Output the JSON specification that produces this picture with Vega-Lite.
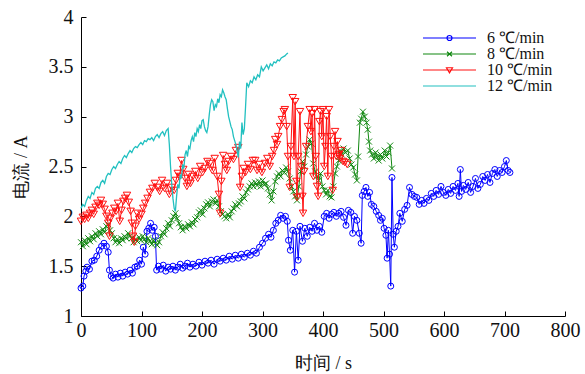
{
  "$schema": "https://vega.github.io/schema/vega-lite/v6.json",
  "width": 484,
  "height": 299,
  "autosize": "none",
  "padding": {"left": 81, "top": 17, "right": 20, "bottom": 58},
  "background": "white",
  "config": {
    "view": {"stroke": null},
    "axis": {
      "grid": false,
      "domainColor": "#000",
      "domainWidth": 1,
      "tickColor": "#000",
      "tickSize": -5,
      "labelFont": "Liberation Serif",
      "labelFontSize": 20,
      "labelColor": "#111",
      "labelOverlap": false,
      "labelFlush": false,
      "titleFont": "Liberation Serif",
      "titleFontSize": 18,
      "titleFontWeight": "normal",
      "titleColor": "#111"
    }
  },
  "datasets": {
    "d": [
      {"s":6,"t":0,"v":1.28},{"s":6,"t":3,"v":1.30},{"s":6,"t":5,"v":1.40},{"s":6,"t":8,"v":1.45},{"s":6,"t":10,"v":1.49},{"s":6,"t":14,"v":1.47},{"s":6,"t":18,"v":1.55},{"s":6,"t":22,"v":1.56},{"s":6,"t":26,"v":1.60},{"s":6,"t":30,"v":1.66},{"s":6,"t":34,"v":1.70},{"s":6,"t":38,"v":1.73},{"s":6,"t":42,"v":1.70},{"s":6,"t":45,"v":1.64},{"s":6,"t":47,"v":1.46},{"s":6,"t":50,"v":1.40},{"s":6,"t":53,"v":1.38},{"s":6,"t":57,"v":1.42},{"s":6,"t":61,"v":1.39},{"s":6,"t":65,"v":1.43},{"s":6,"t":69,"v":1.40},{"s":6,"t":73,"v":1.44},{"s":6,"t":77,"v":1.42},{"s":6,"t":81,"v":1.46},{"s":6,"t":85,"v":1.43},{"s":6,"t":89,"v":1.49},{"s":6,"t":93,"v":1.50},{"s":6,"t":97,"v":1.56},{"s":6,"t":100,"v":1.52},{"s":6,"t":103,"v":1.69},{"s":6,"t":106,"v":1.62},{"s":6,"t":109,"v":1.85},{"s":6,"t":112,"v":1.88},{"s":6,"t":115,"v":1.93},{"s":6,"t":118,"v":1.86},{"s":6,"t":121,"v":1.89},{"s":6,"t":123,"v":1.80},{"s":6,"t":125,"v":1.46},{"s":6,"t":128,"v":1.50},{"s":6,"t":132,"v":1.47},{"s":6,"t":136,"v":1.51},{"s":6,"t":140,"v":1.45},{"s":6,"t":144,"v":1.49},{"s":6,"t":148,"v":1.47},{"s":6,"t":152,"v":1.50},{"s":6,"t":156,"v":1.46},{"s":6,"t":160,"v":1.49},{"s":6,"t":164,"v":1.52},{"s":6,"t":168,"v":1.48},{"s":6,"t":172,"v":1.50},{"s":6,"t":176,"v":1.53},{"s":6,"t":180,"v":1.49},{"s":6,"t":185,"v":1.52},{"s":6,"t":190,"v":1.50},{"s":6,"t":195,"v":1.54},{"s":6,"t":200,"v":1.51},{"s":6,"t":205,"v":1.55},{"s":6,"t":210,"v":1.53},{"s":6,"t":215,"v":1.56},{"s":6,"t":220,"v":1.52},{"s":6,"t":225,"v":1.57},{"s":6,"t":230,"v":1.55},{"s":6,"t":235,"v":1.58},{"s":6,"t":240,"v":1.56},{"s":6,"t":245,"v":1.60},{"s":6,"t":250,"v":1.57},{"s":6,"t":255,"v":1.61},{"s":6,"t":260,"v":1.58},{"s":6,"t":265,"v":1.62},{"s":6,"t":270,"v":1.59},{"s":6,"t":275,"v":1.63},{"s":6,"t":280,"v":1.61},{"s":6,"t":285,"v":1.65},{"s":6,"t":290,"v":1.63},{"s":6,"t":295,"v":1.69},{"s":6,"t":300,"v":1.73},{"s":6,"t":305,"v":1.78},{"s":6,"t":310,"v":1.82},{"s":6,"t":314,"v":1.79},{"s":6,"t":318,"v":1.86},{"s":6,"t":322,"v":1.93},{"s":6,"t":326,"v":1.96},{"s":6,"t":330,"v":2.01},{"s":6,"t":334,"v":1.98},{"s":6,"t":338,"v":2.00},{"s":6,"t":341,"v":1.95},{"s":6,"t":343,"v":1.76},{"s":6,"t":346,"v":1.66},{"s":6,"t":350,"v":1.86},{"s":6,"t":353,"v":1.44},{"s":6,"t":356,"v":1.85},{"s":6,"t":359,"v":1.56},{"s":6,"t":362,"v":1.90},{"s":6,"t":366,"v":1.75},{"s":6,"t":370,"v":1.88},{"s":6,"t":374,"v":1.80},{"s":6,"t":378,"v":1.89},{"s":6,"t":382,"v":1.85},{"s":6,"t":386,"v":1.93},{"s":6,"t":390,"v":1.86},{"s":6,"t":394,"v":1.90},{"s":6,"t":398,"v":1.84},{"s":6,"t":402,"v":2.00},{"s":6,"t":406,"v":2.03},{"s":6,"t":410,"v":1.98},{"s":6,"t":414,"v":2.02},{"s":6,"t":418,"v":2.04},{"s":6,"t":422,"v":2.00},{"s":6,"t":426,"v":2.03},{"s":6,"t":430,"v":2.05},{"s":6,"t":434,"v":1.99},{"s":6,"t":438,"v":1.91},{"s":6,"t":442,"v":2.06},{"s":6,"t":446,"v":2.04},{"s":6,"t":449,"v":1.83},{"s":6,"t":452,"v":2.00},{"s":6,"t":456,"v":1.96},{"s":6,"t":460,"v":1.83},{"s":6,"t":463,"v":1.73},{"s":6,"t":465,"v":2.21},{"s":6,"t":468,"v":2.25},{"s":6,"t":471,"v":2.29},{"s":6,"t":474,"v":2.20},{"s":6,"t":477,"v":2.24},{"s":6,"t":480,"v":2.12},{"s":6,"t":484,"v":2.10},{"s":6,"t":488,"v":2.05},{"s":6,"t":492,"v":2.01},{"s":6,"t":495,"v":1.96},{"s":6,"t":498,"v":1.98},{"s":6,"t":501,"v":1.88},{"s":6,"t":504,"v":1.81},{"s":6,"t":506,"v":1.58},{"s":6,"t":508,"v":1.86},{"s":6,"t":510,"v":1.62},{"s":6,"t":512,"v":1.30},{"s":6,"t":514,"v":2.39},{"s":6,"t":516,"v":1.82},{"s":6,"t":518,"v":1.69},{"s":6,"t":521,"v":1.85},{"s":6,"t":524,"v":1.90},{"s":6,"t":527,"v":2.03},{"s":6,"t":531,"v":1.95},{"s":6,"t":535,"v":2.07},{"s":6,"t":539,"v":2.11},{"s":6,"t":543,"v":2.29},{"s":6,"t":547,"v":2.22},{"s":6,"t":551,"v":2.20},{"s":6,"t":555,"v":2.19},{"s":6,"t":559,"v":2.12},{"s":6,"t":563,"v":2.16},{"s":6,"t":567,"v":2.13},{"s":6,"t":571,"v":2.18},{"s":6,"t":575,"v":2.16},{"s":6,"t":579,"v":2.23},{"s":6,"t":583,"v":2.20},{"s":6,"t":587,"v":2.26},{"s":6,"t":591,"v":2.22},{"s":6,"t":595,"v":2.30},{"s":6,"t":599,"v":2.24},{"s":6,"t":603,"v":2.21},{"s":6,"t":607,"v":2.27},{"s":6,"t":611,"v":2.23},{"s":6,"t":615,"v":2.30},{"s":6,"t":619,"v":2.26},{"s":6,"t":623,"v":2.33},{"s":6,"t":625,"v":2.20},{"s":6,"t":627,"v":2.47},{"s":6,"t":629,"v":2.25},{"s":6,"t":632,"v":2.31},{"s":6,"t":636,"v":2.27},{"s":6,"t":640,"v":2.34},{"s":6,"t":644,"v":2.24},{"s":6,"t":648,"v":2.30},{"s":6,"t":652,"v":2.38},{"s":6,"t":656,"v":2.28},{"s":6,"t":660,"v":2.32},{"s":6,"t":664,"v":2.40},{"s":6,"t":668,"v":2.36},{"s":6,"t":672,"v":2.42},{"s":6,"t":676,"v":2.34},{"s":6,"t":680,"v":2.43},{"s":6,"t":684,"v":2.47},{"s":6,"t":688,"v":2.40},{"s":6,"t":692,"v":2.46},{"s":6,"t":696,"v":2.44},{"s":6,"t":700,"v":2.50},{"s":6,"t":703,"v":2.56},{"s":6,"t":706,"v":2.46},{"s":6,"t":709,"v":2.44},
      {"s":8,"t":0,"v":1.74},{"s":8,"t":3,"v":1.70},{"s":8,"t":6,"v":1.76},{"s":8,"t":9,"v":1.72},{"s":8,"t":12,"v":1.78},{"s":8,"t":15,"v":1.75},{"s":8,"t":18,"v":1.80},{"s":8,"t":21,"v":1.77},{"s":8,"t":24,"v":1.83},{"s":8,"t":27,"v":1.80},{"s":8,"t":30,"v":1.85},{"s":8,"t":33,"v":1.82},{"s":8,"t":36,"v":1.87},{"s":8,"t":39,"v":1.84},{"s":8,"t":42,"v":1.90},{"s":8,"t":45,"v":1.92},{"s":8,"t":48,"v":1.86},{"s":8,"t":51,"v":1.83},{"s":8,"t":54,"v":1.78},{"s":8,"t":57,"v":1.74},{"s":8,"t":60,"v":1.77},{"s":8,"t":63,"v":1.73},{"s":8,"t":66,"v":1.78},{"s":8,"t":69,"v":1.76},{"s":8,"t":72,"v":1.80},{"s":8,"t":75,"v":1.78},{"s":8,"t":78,"v":1.83},{"s":8,"t":81,"v":1.80},{"s":8,"t":84,"v":1.78},{"s":8,"t":87,"v":1.74},{"s":8,"t":90,"v":1.77},{"s":8,"t":93,"v":1.75},{"s":8,"t":96,"v":1.79},{"s":8,"t":99,"v":1.76},{"s":8,"t":102,"v":1.80},{"s":8,"t":105,"v":1.77},{"s":8,"t":108,"v":1.74},{"s":8,"t":111,"v":1.78},{"s":8,"t":114,"v":1.75},{"s":8,"t":117,"v":1.72},{"s":8,"t":120,"v":1.76},{"s":8,"t":123,"v":1.73},{"s":8,"t":126,"v":1.71},{"s":8,"t":129,"v":1.74},{"s":8,"t":132,"v":1.80},{"s":8,"t":135,"v":1.84},{"s":8,"t":138,"v":1.82},{"s":8,"t":141,"v":1.88},{"s":8,"t":144,"v":1.93},{"s":8,"t":147,"v":1.90},{"s":8,"t":150,"v":1.96},{"s":8,"t":153,"v":2.00},{"s":8,"t":156,"v":2.03},{"s":8,"t":159,"v":1.98},{"s":8,"t":162,"v":1.93},{"s":8,"t":165,"v":1.89},{"s":8,"t":168,"v":1.86},{"s":8,"t":171,"v":1.90},{"s":8,"t":174,"v":1.88},{"s":8,"t":177,"v":1.92},{"s":8,"t":180,"v":1.90},{"s":8,"t":183,"v":1.94},{"s":8,"t":186,"v":1.92},{"s":8,"t":189,"v":1.97},{"s":8,"t":192,"v":1.99},{"s":8,"t":195,"v":2.04},{"s":8,"t":198,"v":2.06},{"s":8,"t":201,"v":2.02},{"s":8,"t":204,"v":2.08},{"s":8,"t":207,"v":2.12},{"s":8,"t":210,"v":2.14},{"s":8,"t":213,"v":2.10},{"s":8,"t":216,"v":2.15},{"s":8,"t":219,"v":2.17},{"s":8,"t":222,"v":2.13},{"s":8,"t":225,"v":2.16},{"s":8,"t":228,"v":2.10},{"s":8,"t":231,"v":2.05},{"s":8,"t":234,"v":2.02},{"s":8,"t":237,"v":2.00},{"s":8,"t":240,"v":1.98},{"s":8,"t":243,"v":2.02},{"s":8,"t":246,"v":1.99},{"s":8,"t":249,"v":2.05},{"s":8,"t":252,"v":2.08},{"s":8,"t":255,"v":2.12},{"s":8,"t":258,"v":2.10},{"s":8,"t":261,"v":2.13},{"s":8,"t":264,"v":2.15},{"s":8,"t":267,"v":2.20},{"s":8,"t":270,"v":2.18},{"s":8,"t":273,"v":2.24},{"s":8,"t":276,"v":2.27},{"s":8,"t":279,"v":2.30},{"s":8,"t":282,"v":2.33},{"s":8,"t":285,"v":2.30},{"s":8,"t":288,"v":2.34},{"s":8,"t":291,"v":2.31},{"s":8,"t":294,"v":2.35},{"s":8,"t":297,"v":2.30},{"s":8,"t":300,"v":2.36},{"s":8,"t":303,"v":2.32},{"s":8,"t":306,"v":2.33},{"s":8,"t":309,"v":2.28},{"s":8,"t":312,"v":2.22},{"s":8,"t":315,"v":2.16},{"s":8,"t":318,"v":2.25},{"s":8,"t":321,"v":2.35},{"s":8,"t":324,"v":2.40},{"s":8,"t":327,"v":2.43},{"s":8,"t":330,"v":2.40},{"s":8,"t":333,"v":2.46},{"s":8,"t":336,"v":2.44},{"s":8,"t":339,"v":2.49},{"s":8,"t":342,"v":2.45},{"s":8,"t":345,"v":2.38},{"s":8,"t":348,"v":2.30},{"s":8,"t":351,"v":2.25},{"s":8,"t":354,"v":2.20},{"s":8,"t":357,"v":2.16},{"s":8,"t":360,"v":2.30},{"s":8,"t":363,"v":2.45},{"s":8,"t":366,"v":2.55},{"s":8,"t":369,"v":2.50},{"s":8,"t":372,"v":2.62},{"s":8,"t":375,"v":2.70},{"s":8,"t":378,"v":2.77},{"s":8,"t":381,"v":2.73},{"s":8,"t":384,"v":2.53},{"s":8,"t":387,"v":2.45},{"s":8,"t":390,"v":2.40},{"s":8,"t":393,"v":2.36},{"s":8,"t":396,"v":2.43},{"s":8,"t":399,"v":2.30},{"s":8,"t":402,"v":2.26},{"s":8,"t":405,"v":2.22},{"s":8,"t":408,"v":2.26},{"s":8,"t":411,"v":2.20},{"s":8,"t":414,"v":2.19},{"s":8,"t":417,"v":2.30},{"s":8,"t":420,"v":2.43},{"s":8,"t":423,"v":2.50},{"s":8,"t":426,"v":2.56},{"s":8,"t":428,"v":2.66},{"s":8,"t":431,"v":2.62},{"s":8,"t":434,"v":2.68},{"s":8,"t":437,"v":2.64},{"s":8,"t":441,"v":2.66},{"s":8,"t":444,"v":2.58},{"s":8,"t":447,"v":2.52},{"s":8,"t":450,"v":2.49},{"s":8,"t":453,"v":2.42},{"s":8,"t":456,"v":2.36},{"s":8,"t":458,"v":2.60},{"s":8,"t":461,"v":2.94},{"s":8,"t":463,"v":2.98},{"s":8,"t":466,"v":3.05},{"s":8,"t":469,"v":3.00},{"s":8,"t":472,"v":2.94},{"s":8,"t":474,"v":2.87},{"s":8,"t":476,"v":2.75},{"s":8,"t":478,"v":2.66},{"s":8,"t":481,"v":2.62},{"s":8,"t":484,"v":2.58},{"s":8,"t":487,"v":2.64},{"s":8,"t":489,"v":2.60},{"s":8,"t":492,"v":2.56},{"s":8,"t":495,"v":2.62},{"s":8,"t":498,"v":2.58},{"s":8,"t":502,"v":2.66},{"s":8,"t":505,"v":2.60},{"s":8,"t":508,"v":2.64},{"s":8,"t":511,"v":2.71},{"s":8,"t":514,"v":2.48},
      {"s":10,"t":0,"v":1.95},{"s":10,"t":3,"v":1.99},{"s":10,"t":6,"v":1.97},{"s":10,"t":9,"v":2.01},{"s":10,"t":12,"v":1.98},{"s":10,"t":15,"v":2.03},{"s":10,"t":18,"v":2.06},{"s":10,"t":21,"v":2.02},{"s":10,"t":24,"v":2.09},{"s":10,"t":27,"v":2.13},{"s":10,"t":30,"v":2.11},{"s":10,"t":33,"v":2.16},{"s":10,"t":36,"v":2.12},{"s":10,"t":39,"v":2.07},{"s":10,"t":42,"v":2.00},{"s":10,"t":45,"v":1.93},{"s":10,"t":47,"v":1.80},{"s":10,"t":49,"v":1.98},{"s":10,"t":52,"v":2.03},{"s":10,"t":55,"v":2.08},{"s":10,"t":58,"v":2.05},{"s":10,"t":61,"v":2.13},{"s":10,"t":64,"v":1.95},{"s":10,"t":67,"v":2.06},{"s":10,"t":70,"v":2.15},{"s":10,"t":73,"v":2.18},{"s":10,"t":76,"v":2.21},{"s":10,"t":79,"v":2.14},{"s":10,"t":82,"v":2.05},{"s":10,"t":84,"v":1.93},{"s":10,"t":86,"v":1.80},{"s":10,"t":88,"v":1.74},{"s":10,"t":90,"v":1.90},{"s":10,"t":93,"v":2.03},{"s":10,"t":96,"v":1.97},{"s":10,"t":100,"v":2.02},{"s":10,"t":103,"v":2.08},{"s":10,"t":106,"v":2.13},{"s":10,"t":110,"v":2.18},{"s":10,"t":114,"v":2.24},{"s":10,"t":118,"v":2.28},{"s":10,"t":122,"v":2.33},{"s":10,"t":126,"v":2.29},{"s":10,"t":130,"v":2.25},{"s":10,"t":134,"v":2.36},{"s":10,"t":138,"v":2.28},{"s":10,"t":142,"v":2.33},{"s":10,"t":146,"v":2.22},{"s":10,"t":150,"v":2.29},{"s":10,"t":154,"v":2.26},{"s":10,"t":157,"v":2.36},{"s":10,"t":160,"v":2.43},{"s":10,"t":163,"v":2.40},{"s":10,"t":166,"v":2.56},{"s":10,"t":169,"v":2.47},{"s":10,"t":172,"v":2.38},{"s":10,"t":175,"v":2.30},{"s":10,"t":178,"v":2.42},{"s":10,"t":181,"v":2.33},{"s":10,"t":185,"v":2.40},{"s":10,"t":189,"v":2.45},{"s":10,"t":193,"v":2.38},{"s":10,"t":197,"v":2.50},{"s":10,"t":201,"v":2.44},{"s":10,"t":205,"v":2.48},{"s":10,"t":209,"v":2.55},{"s":10,"t":213,"v":2.53},{"s":10,"t":217,"v":2.46},{"s":10,"t":221,"v":2.58},{"s":10,"t":225,"v":2.40},{"s":10,"t":228,"v":2.22},{"s":10,"t":230,"v":2.03},{"s":10,"t":232,"v":2.35},{"s":10,"t":235,"v":2.61},{"s":10,"t":238,"v":2.52},{"s":10,"t":241,"v":2.46},{"s":10,"t":244,"v":2.55},{"s":10,"t":248,"v":2.60},{"s":10,"t":252,"v":2.57},{"s":10,"t":256,"v":2.66},{"s":10,"t":260,"v":2.69},{"s":10,"t":263,"v":2.29},{"s":10,"t":266,"v":2.40},{"s":10,"t":269,"v":2.48},{"s":10,"t":272,"v":2.44},{"s":10,"t":276,"v":2.52},{"s":10,"t":280,"v":2.47},{"s":10,"t":284,"v":2.56},{"s":10,"t":288,"v":2.56},{"s":10,"t":291,"v":2.46},{"s":10,"t":295,"v":2.52},{"s":10,"t":299,"v":2.44},{"s":10,"t":304,"v":2.53},{"s":10,"t":308,"v":2.58},{"s":10,"t":312,"v":2.50},{"s":10,"t":316,"v":2.60},{"s":10,"t":319,"v":2.66},{"s":10,"t":321,"v":2.77},{"s":10,"t":324,"v":2.72},{"s":10,"t":326,"v":2.80},{"s":10,"t":329,"v":2.90},{"s":10,"t":332,"v":2.97},{"s":10,"t":335,"v":3.05},{"s":10,"t":337,"v":3.07},{"s":10,"t":340,"v":2.90},{"s":10,"t":342,"v":2.60},{"s":10,"t":345,"v":2.29},{"s":10,"t":347,"v":2.70},{"s":10,"t":350,"v":3.19},{"s":10,"t":352,"v":2.60},{"s":10,"t":354,"v":3.15},{"s":10,"t":356,"v":2.35},{"s":10,"t":357,"v":2.19},{"s":10,"t":359,"v":2.60},{"s":10,"t":362,"v":3.05},{"s":10,"t":364,"v":2.50},{"s":10,"t":366,"v":2.20},{"s":10,"t":367,"v":2.03},{"s":10,"t":369,"v":2.45},{"s":10,"t":372,"v":2.70},{"s":10,"t":375,"v":2.90},{"s":10,"t":378,"v":3.07},{"s":10,"t":380,"v":2.85},{"s":10,"t":382,"v":3.03},{"s":10,"t":384,"v":2.40},{"s":10,"t":386,"v":3.07},{"s":10,"t":388,"v":2.60},{"s":10,"t":390,"v":2.30},{"s":10,"t":392,"v":2.20},{"s":10,"t":394,"v":2.95},{"s":10,"t":396,"v":3.05},{"s":10,"t":398,"v":2.80},{"s":10,"t":400,"v":3.07},{"s":10,"t":402,"v":2.50},{"s":10,"t":404,"v":2.70},{"s":10,"t":406,"v":3.00},{"s":10,"t":408,"v":2.40},{"s":10,"t":410,"v":3.07},{"s":10,"t":412,"v":2.80},{"s":10,"t":414,"v":2.60},{"s":10,"t":416,"v":2.26},{"s":10,"t":418,"v":2.70},{"s":10,"t":420,"v":2.85},{"s":10,"t":422,"v":2.60},{"s":10,"t":424,"v":2.75},{"s":10,"t":426,"v":2.62},{"s":10,"t":428,"v":2.58},{"s":10,"t":430,"v":2.66},{"s":10,"t":433,"v":2.55},{"s":10,"t":436,"v":2.54},{"s":10,"t":440,"v":2.52},
      {"s":12,"t":0,"v":2.08},{"s":12,"t":3,"v":2.12},{"s":12,"t":6,"v":2.10},{"s":12,"t":9,"v":2.16},{"s":12,"t":12,"v":2.20},{"s":12,"t":15,"v":2.18},{"s":12,"t":18,"v":2.24},{"s":12,"t":21,"v":2.22},{"s":12,"t":24,"v":2.28},{"s":12,"t":27,"v":2.30},{"s":12,"t":30,"v":2.28},{"s":12,"t":33,"v":2.34},{"s":12,"t":36,"v":2.36},{"s":12,"t":39,"v":2.33},{"s":12,"t":42,"v":2.40},{"s":12,"t":45,"v":2.43},{"s":12,"t":48,"v":2.42},{"s":12,"t":51,"v":2.47},{"s":12,"t":54,"v":2.50},{"s":12,"t":57,"v":2.48},{"s":12,"t":60,"v":2.52},{"s":12,"t":63,"v":2.55},{"s":12,"t":66,"v":2.53},{"s":12,"t":69,"v":2.58},{"s":12,"t":72,"v":2.61},{"s":12,"t":75,"v":2.59},{"s":12,"t":78,"v":2.63},{"s":12,"t":81,"v":2.66},{"s":12,"t":84,"v":2.64},{"s":12,"t":87,"v":2.68},{"s":12,"t":90,"v":2.70},{"s":12,"t":93,"v":2.69},{"s":12,"t":96,"v":2.72},{"s":12,"t":99,"v":2.74},{"s":12,"t":102,"v":2.72},{"s":12,"t":105,"v":2.76},{"s":12,"t":108,"v":2.75},{"s":12,"t":111,"v":2.78},{"s":12,"t":114,"v":2.77},{"s":12,"t":117,"v":2.79},{"s":12,"t":120,"v":2.76},{"s":12,"t":123,"v":2.80},{"s":12,"t":126,"v":2.82},{"s":12,"t":129,"v":2.79},{"s":12,"t":132,"v":2.83},{"s":12,"t":135,"v":2.85},{"s":12,"t":138,"v":2.81},{"s":12,"t":141,"v":2.86},{"s":12,"t":144,"v":2.88},{"s":12,"t":146,"v":2.72},{"s":12,"t":148,"v":2.50},{"s":12,"t":150,"v":2.32},{"s":12,"t":152,"v":2.18},{"s":12,"t":154,"v":2.08},{"s":12,"t":156,"v":2.05},{"s":12,"t":158,"v":2.20},{"s":12,"t":160,"v":2.32},{"s":12,"t":162,"v":2.28},{"s":12,"t":164,"v":2.42},{"s":12,"t":166,"v":2.38},{"s":12,"t":168,"v":2.52},{"s":12,"t":170,"v":2.48},{"s":12,"t":172,"v":2.62},{"s":12,"t":174,"v":2.66},{"s":12,"t":176,"v":2.60},{"s":12,"t":178,"v":2.70},{"s":12,"t":180,"v":2.68},{"s":12,"t":182,"v":2.76},{"s":12,"t":184,"v":2.80},{"s":12,"t":186,"v":2.75},{"s":12,"t":188,"v":2.84},{"s":12,"t":190,"v":2.80},{"s":12,"t":192,"v":2.88},{"s":12,"t":194,"v":2.85},{"s":12,"t":196,"v":2.92},{"s":12,"t":198,"v":2.88},{"s":12,"t":200,"v":2.96},{"s":12,"t":202,"v":2.97},{"s":12,"t":204,"v":2.90},{"s":12,"t":206,"v":2.86},{"s":12,"t":208,"v":2.84},{"s":12,"t":210,"v":2.90},{"s":12,"t":212,"v":3.02},{"s":12,"t":214,"v":3.12},{"s":12,"t":216,"v":3.17},{"s":12,"t":218,"v":3.15},{"s":12,"t":220,"v":3.06},{"s":12,"t":222,"v":3.12},{"s":12,"t":224,"v":3.10},{"s":12,"t":226,"v":3.18},{"s":12,"t":228,"v":3.14},{"s":12,"t":230,"v":3.22},{"s":12,"t":232,"v":3.20},{"s":12,"t":234,"v":3.27},{"s":12,"t":236,"v":3.24},{"s":12,"t":238,"v":3.20},{"s":12,"t":240,"v":3.17},{"s":12,"t":242,"v":3.08},{"s":12,"t":244,"v":3.00},{"s":12,"t":246,"v":2.95},{"s":12,"t":248,"v":2.90},{"s":12,"t":250,"v":2.87},{"s":12,"t":252,"v":2.80},{"s":12,"t":254,"v":2.76},{"s":12,"t":256,"v":2.72},{"s":12,"t":258,"v":2.66},{"s":12,"t":260,"v":2.59},{"s":12,"t":262,"v":2.75},{"s":12,"t":264,"v":2.68},{"s":12,"t":266,"v":2.94},{"s":12,"t":268,"v":2.82},{"s":12,"t":270,"v":2.88},{"s":12,"t":272,"v":3.10},{"s":12,"t":274,"v":3.34},{"s":12,"t":277,"v":3.30},{"s":12,"t":280,"v":3.36},{"s":12,"t":283,"v":3.34},{"s":12,"t":286,"v":3.40},{"s":12,"t":289,"v":3.37},{"s":12,"t":292,"v":3.42},{"s":12,"t":295,"v":3.40},{"s":12,"t":298,"v":3.50},{"s":12,"t":301,"v":3.46},{"s":12,"t":304,"v":3.49},{"s":12,"t":307,"v":3.52},{"s":12,"t":310,"v":3.48},{"s":12,"t":313,"v":3.53},{"s":12,"t":316,"v":3.51},{"s":12,"t":319,"v":3.55},{"s":12,"t":322,"v":3.54},{"s":12,"t":325,"v":3.57},{"s":12,"t":328,"v":3.56},{"s":12,"t":331,"v":3.59},{"s":12,"t":334,"v":3.60},{"s":12,"t":337,"v":3.61},{"s":12,"t":340,"v":3.63},{"s":12,"t":342,"v":3.64}
    ]
  },
  "data": {"name": "d"},
  "encoding": {
    "x": {"field": "t", "type": "quantitative", "scale": {"domain": [0, 800], "nice": false},
      "axis": {"title": "时间 / s", "values": [0,100,200,300,400,500,600,700,800], "labelPadding": 9, "titlePadding": 14}},
    "y": {"field": "v", "type": "quantitative", "scale": {"domain": [1, 4], "nice": false, "zero": false},
      "axis": {"title": "电流 / A", "values": [1,1.5,2,2.5,3,3.5,4], "format": "~g", "labelPadding": 13, "titlePadding": 18}},
    "color": {"field": "s", "type": "nominal",
      "scale": {"domain": [6,8,10,12], "range": ["#0000ff","#118811","#ff1010","#22c0c0"]},
      "legend": {"orient": "none", "legendX": 339, "legendY": 13, "title": null, "padding": 0, "rowPadding": -2,
        "symbolSize": 100, "symbolStrokeWidth": 1.2, "symbolOpacity": 1, "labelOffset": 51,
        "labelFont": "Liberation Serif", "labelFontSize": 16, "labelColor": "#111",
        "labelExpr": "datum.label + ' ℃/min'"}}
  },
  "layer": [
    {"transform": [{"filter": "datum.s == 6"}],
     "mark": {"type": "line", "strokeWidth": 1, "point": {"shape": "circle", "filled": false, "size": 36, "strokeWidth": 1}}},
    {"transform": [{"filter": "datum.s == 8"}],
     "mark": {"type": "line", "strokeWidth": 1, "point": {"shape": "M-1,-1L1,1M-1,1L1,-1", "filled": false, "size": 36, "strokeWidth": 1}}},
    {"transform": [{"filter": "datum.s == 10"}],
     "mark": {"type": "line", "strokeWidth": 1, "point": {"shape": "triangle-down", "filled": false, "size": 56, "strokeWidth": 1}}},
    {"transform": [{"filter": "datum.s == 12"}],
     "mark": {"type": "line", "strokeWidth": 1.3}},
    {"mark": {"type": "point", "filled": false, "opacity": 0},
     "encoding": {
       "shape": {"field": "s", "type": "nominal",
         "scale": {"domain": [6,8,10,12], "range": [
           "M-1,0H9.6M3.8,0A0.5,0.5 0 1,0 4.8,0A0.5,0.5 0 1,0 3.8,0",
           "M-1,0H9.6M3.8,-0.45L4.8,0.45M3.8,0.45L4.8,-0.45",
           "M-1,0H9.6M3.7,-0.45H4.9L4.3,0.55Z",
           "M-1,0H9.6"]},
         "legend": {"orient": "none", "legendX": 339, "legendY": 13, "title": null, "padding": 0, "rowPadding": -2,
           "symbolSize": 100, "symbolStrokeWidth": 1.2, "symbolOpacity": 1, "labelOffset": 51,
           "labelFont": "Liberation Serif", "labelFontSize": 16, "labelColor": "#111",
           "labelExpr": "datum.label + ' ℃/min'"}}
     }}
  ]
}
